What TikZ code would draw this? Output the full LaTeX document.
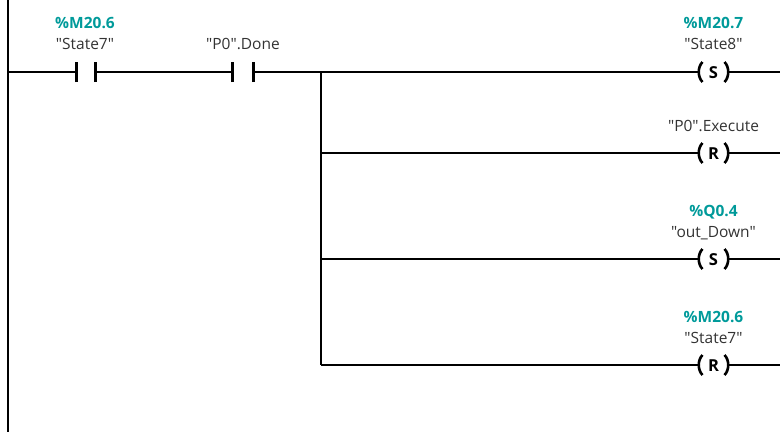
\documentclass[tikz,border=0pt]{standalone}
\usepackage{fontspec}
\setmainfont{Open Sans}[Ligatures=TeXOff]
\definecolor{teal1}{HTML}{009A9A}
\definecolor{txt}{HTML}{333333}
\newcommand{\qq}{\char34\relax}
\begin{document}
\begin{tikzpicture}[x=1pt,y=-1pt,
  wire/.style={line width=2pt,black},
  bar/.style={line width=3pt,black},
  paren/.style={line width=2.6pt,black},
  addr/.style={font=\fontsize{15.5}{17}\selectfont\bfseries,text=teal1,anchor=base,inner sep=0pt},
  tag/.style={font=\fontsize{15.5}{17}\selectfont,text=txt,anchor=base,inner sep=0pt},
  coiltxt/.style={font=\fontsize{16.5}{18}\selectfont\bfseries,text=black,inner sep=0pt,anchor=base}]
\useasboundingbox (0,0) rectangle (780,432);
% left power rail
\coordinate (railT) at (8,0);
\coordinate (railB) at (8,432);
\draw[line width=2pt] (railT) -- (railB);
% rung 1 contacts
\coordinate (r1) at (8,72);
\coordinate (c1a) at (76,72);
\coordinate (c1b) at (95,72);
\coordinate (c2a) at (232,72);
\coordinate (c2b) at (253,72);
\coordinate (br1) at (321,72);
\draw[wire] (r1) -- (c1a);
\draw[bar] ([yshift=-10pt]c1a) -- ([yshift=10pt]c1a);
\draw[bar] ([yshift=-10pt]c1b) -- ([yshift=10pt]c1b);
\draw[wire] (c1b) -- (c2a);
\draw[bar] ([yshift=-10pt]c2a) -- ([yshift=10pt]c2a);
\draw[bar] ([yshift=-10pt]c2b) -- ([yshift=10pt]c2b);
\draw[wire] (c2b) -- (br1);
\node[addr] (a1) at (85,28) {\%M20.6};
\node[tag] (t1) at (85,49) {\qq State7\qq};
\node[tag] (t2) at (243,49) {\qq P0\qq.Done};
% branch
\coordinate (br2) at (321,153);
\coordinate (br3) at (321,259);
\coordinate (br4) at (321,365);
\draw[wire] (br1) -- (br4);
% coils
\foreach \n/\y/\L in {1/72/S,2/153/R,3/259/S,4/365/R}{
  \coordinate (k\n a) at (699,\y);
  \coordinate (k\n b) at (728,\y);
  \coordinate (k\n e) at (780,\y);
  \node[coiltxt] (k\n) at (713.5,\y+6) {\L};
  \draw[paren] (702.5,\y-10) .. controls (697.5,\y-5) and (697.5,\y+5) .. (702.5,\y+10);
  \draw[paren] (724.5,\y-10) .. controls (729.5,\y-5) and (729.5,\y+5) .. (724.5,\y+10);
  \draw[wire] (k\n b) -- (k\n e);
}
\draw[wire] (br1) -- (k1a);
\draw[wire] (br2) -- (k2a);
\draw[wire] (br3) -- (k3a);
\draw[wire] (br4) -- (k4a);
% coil labels
\node[addr] (a2) at (713.5,28) {\%M20.7};
\node[tag] (t3) at (713.5,49) {\qq State8\qq};
\node[tag] (t4) at (713.5,131) {\qq P0\qq.Execute};
\node[addr] (a3) at (713.5,216) {\%Q0.4};
\node[tag] (t5) at (713.5,237) {\qq out\_Down\qq};
\node[addr] (a4) at (713.5,322) {\%M20.6};
\node[tag] (t6) at (713.5,343) {\qq State7\qq};
\end{tikzpicture}
\end{document}
